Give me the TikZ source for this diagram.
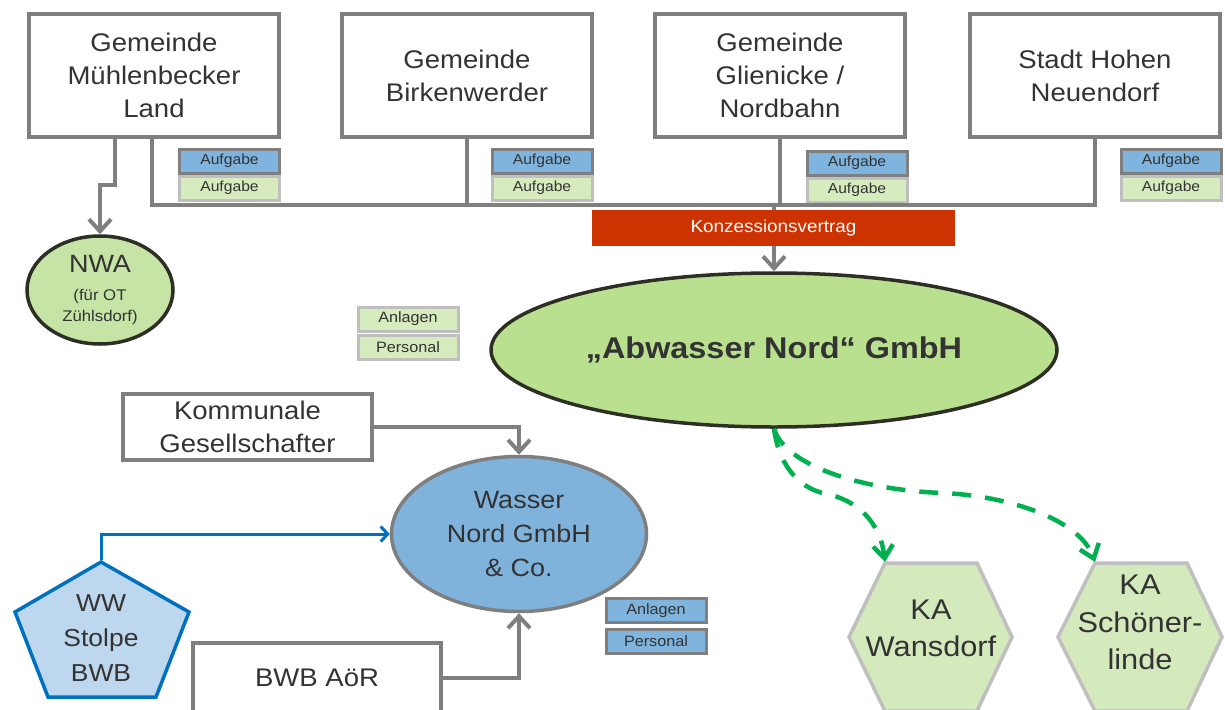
\documentclass[tikz,border=0pt]{standalone}
\usepackage{fontspec}
\setmainfont{Liberation Sans}[FakeStretch=1.08]
\usetikzlibrary{arrows.meta,shapes.geometric}
\definecolor{boxgray}{HTML}{7F7F7F}
\definecolor{lgray}{HTML}{BFBFBF}
\definecolor{txt}{HTML}{333333}
\definecolor{aufblue}{HTML}{7EB4DE}
\definecolor{aufgreen}{HTML}{D6EBBE}
\definecolor{wblue}{HTML}{80B3DC}
\definecolor{abwgreen}{HTML}{B9E08F}
\definecolor{nwagreen}{HTML}{C5E4A6}
\definecolor{kagreen}{HTML}{D5EABC}
\definecolor{kvred}{HTML}{CC3300}
\definecolor{pentfill}{HTML}{BDD7EE}
\definecolor{pentdraw}{HTML}{0070C0}
\definecolor{dashgreen}{HTML}{00B050}
\definecolor{darkline}{HTML}{2E2E25}
\newcommand{\fsz}[2]{\fontsize{#1}{#2}\selectfont}
\tikzset{
  gbox/.style={rectangle, draw=boxgray, line width=3.5pt, fill=white, text=txt,
    align=center, inner sep=0pt, font=\fsz{25.5}{33}},
  gemeinde/.style={gbox, minimum width=250pt, minimum height=123pt},
  tagblue/.style={rectangle, draw=boxgray, fill=aufblue, line width=3pt,
    minimum width=100pt, minimum height=24pt, inner sep=0pt, text=txt, font=\fsz{14.5}{16}},
  taggreen/.style={tagblue, draw=lgray, fill=aufgreen},
  conn/.style={draw=boxgray, line width=4pt},
  garrow/.style={-{Straight Barb[length=12pt,width=22pt]}},
  dashc/.style={draw=dashgreen, line width=4.5pt, dash pattern=on 19pt off 14pt,
    -{Straight Barb[length=13pt,width=20pt]}},
  bluec/.style={draw=pentdraw, line width=3pt, -{Straight Barb[length=7pt,width=15pt]}},
  hexa/.style={draw=lgray, fill=kagreen, line width=3.5pt, line join=miter},
  hextext/.style={align=center, text=txt, font=\fsz{28.5}{37.5}, inner sep=0pt}
}
\begin{document}
\begin{tikzpicture}[x=1pt,y=-1pt]
\useasboundingbox (0,0) rectangle (1225,709);

% Gemeinden
\node[gemeinde] (m1) at (154,75.5) {Gemeinde\\Mühlenbecker\\Land};
\node[gemeinde] (m2) at (467,75.5) {Gemeinde\\Birkenwerder};
\node[gemeinde] (m3) at (780,75.5) {Gemeinde\\Glienicke /\\Nordbahn};
\node[gemeinde] (m4) at (1095,75.5) {Stadt Hohen\\Neuendorf};

% Aufgabe tags
\node[taggreen] (a1g) at (229.5,188) {Aufgabe};
\node[tagblue]  (a1b) at (229.5,161) {Aufgabe};
\node[taggreen] (a2g) at (542,188) {Aufgabe};
\node[tagblue]  (a2b) at (542,161) {Aufgabe};
\node[taggreen] (a3g) at (857,190) {Aufgabe};
\node[tagblue]  (a3b) at (857,163) {Aufgabe};
\node[taggreen] (a4g) at (1171,188) {Aufgabe};
\node[tagblue]  (a4b) at (1171,161) {Aufgabe};

% Ellipses
\node[ellipse, draw=darkline, fill=abwgreen, line width=3.5pt, minimum width=566pt,
  minimum height=154pt, inner sep=0pt, text=txt, font=\bfseries\fsz{30}{34}] (abw) at (774,350)
  {„Abwasser Nord“ GmbH};
\node[ellipse, draw=darkline, fill=nwagreen, line width=3.5pt, minimum width=146pt,
  minimum height=108pt, inner sep=0pt, text=txt, align=center, font=\fsz{15.5}{21}] (nwa) at (100,290)
  {\fsz{25}{26}NWA\\[7pt](für OT\\Zühlsdorf)};
\node[ellipse, draw=boxgray, fill=wblue, line width=3.5pt, minimum width=255pt,
  minimum height=155pt, inner sep=0pt, text=txt, align=center, font=\fsz{25}{34}] (wasser) at (519,534)
  {Wasser\\Nord GmbH\\\& Co.};

% bus lines
\coordinate (busL) at (152,205);
\coordinate (busR) at (1095,205);
\draw[conn] (m1.south -| busL) -- (busL) -- (busR) -- (m4.south);
\draw[conn] (m2.south) -- (m2.south |- busL);
\draw[conn] (m3.south) -- (m3.south |- busL);
\draw[conn, garrow] (abw.north |- busL) -- (abw.north);
\node[rectangle, fill=kvred, minimum width=363pt, minimum height=36pt, inner sep=0pt,
  text=white, font=\fsz{17.5}{20}] (kv) at (773.5,228) {Konzessionsvertrag};

% NWA arrow
\coordinate (nwaj1) at (115,185);
\coordinate (nwaj2) at (100,185);
\draw[conn, garrow] (m1.south -| nwaj1) -- (nwaj1) -- (nwaj2) -- (nwa.north);

% Anlagen / Personal (green)
\node[taggreen, font=\fsz{15}{16}] (ap1) at (408,319) {Anlagen};
\node[taggreen, font=\fsz{15}{16}] (ap2) at (408,347) {Personal};

% Kommunale Gesellschafter
\node[gbox, minimum width=249pt, minimum height=66pt] (komm) at (247.5,427) {Kommunale\\Gesellschafter};
\draw[conn, garrow] (komm.east) -| (wasser.north);

% BWB AoeR
\node[gbox, minimum width=248pt, minimum height=70pt] (bwb) at (317,678) {BWB AöR};
\draw[conn, garrow] (bwb.east) -| (wasser.south);

% WW Stolpe pentagon
\draw[draw=pentdraw, fill=pentfill, line width=3.5pt, line join=miter]
  (101,562) -- (189,612) -- (156,697) -- (48,697) -- (15,612) -- cycle;
\node[align=center, text=txt, font=\fsz{24.5}{35}, inner sep=0pt] (ww) at (101,638) {WW\\Stolpe\\BWB};
\coordinate (wwtop) at (101,560);
\draw[bluec] (wwtop) |- (wasser.west);

% Anlagen / Personal (blue)
\node[tagblue, font=\fsz{15}{16}] (bp1) at (656,610.5) {Anlagen};
\node[tagblue, font=\fsz{15}{16}] (bp2) at (656,641) {Personal};

% KA hexagons
\draw[hexa] (885,563) -- (977,563) -- (1012,637) -- (977,711) -- (885,711) -- (849,637) -- cycle;
\draw[hexa] (1095,563) -- (1187,563) -- (1222,637) -- (1187,711) -- (1095,711) -- (1058,637) -- cycle;
\node[hextext] (kaw) at (931,628.5) {KA\\Wansdorf};
\node[hextext] (kas) at (1140,622.5) {KA\\Schöner-\\linde};
\coordinate (kawtl) at (885,562);
\coordinate (kastl) at (1095,562);

% dashed arrows
\draw[dashc] (abw.south) .. controls (778,460) and (795,488) .. (827,494)
  .. controls (855,500) and (880,520) .. (kawtl);
\draw[dashc] (abw.south) .. controls (785,465) and (860,490) .. (943,493)
  .. controls (1010,496) and (1080,520) .. (kastl);
\end{tikzpicture}
\end{document}
